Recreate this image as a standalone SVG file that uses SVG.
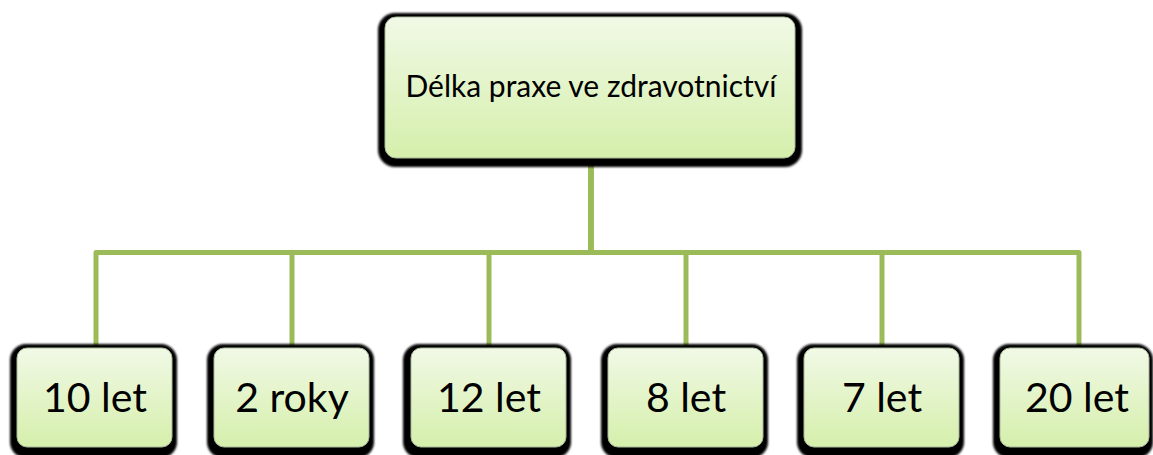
<svg xmlns="http://www.w3.org/2000/svg" width="1153" height="455" viewBox="0 0 1153 455">
  <defs>
    <linearGradient id="fill" x1="0" y1="0" x2="0" y2="1">
      <stop offset="0" stop-color="#f1f9e6"/>
      <stop offset="1" stop-color="#d5efab"/>
    </linearGradient>
    <filter id="blur" x="-10%" y="-10%" width="120%" height="120%">
      <feGaussianBlur stdDeviation="0.8"/>
    </filter>
  </defs>
  <style>
    .shadow { fill: #000; filter: url(#blur); }
    .box { fill: url(#fill); stroke: #a9b99a; stroke-width: 1; }
    .conn { fill: none; stroke: #9bbb59; stroke-width: 5; stroke-linejoin: round; }
    .lbl { font-family: Lato, "Liberation Sans", sans-serif; fill: #000; text-anchor: middle; }
    .top { font-size: 30px; }
    .leaf { font-size: 41px; }
  </style>
  <rect width="1153" height="455" fill="#fff"/>
  <g id="connectors">
    <path class="conn" d="M591,158 V252.5 H96 V346"/>
    <path class="conn" d="M591,158 V252.5 H292 V346"/>
    <path class="conn" d="M591,158 V252.5 H489 V346"/>
    <path class="conn" d="M591,158 V252.5 H686 V346"/>
    <path class="conn" d="M591,158 V252.5 H882 V346"/>
    <path class="conn" d="M591,158 V252.5 H1079 V346"/>
  </g>
  <g id="root">
    <rect class="shadow" x="378" y="13" width="424" height="154" rx="17"/>
    <rect class="box" x="385" y="17" width="410" height="141" rx="11"/>
    <text class="lbl top" x="591" y="97">Délka praxe ve zdravotnictví</text>
  </g>
  <g id="n1">
    <rect class="shadow" x="10" y="344" width="167" height="114" rx="16"/>
    <rect class="box" x="17" y="348" width="155" height="99" rx="10"/>
    <text class="lbl leaf" x="95" y="412">10 let</text>
  </g>
  <g id="n2">
    <rect class="shadow" x="207" y="344" width="167" height="114" rx="16"/>
    <rect class="box" x="214" y="348" width="155" height="99" rx="10"/>
    <text class="lbl leaf" x="292" y="412">2 roky</text>
  </g>
  <g id="n3">
    <rect class="shadow" x="403" y="344" width="168" height="114" rx="16"/>
    <rect class="box" x="411" y="348" width="155" height="99" rx="10"/>
    <text class="lbl leaf" x="489" y="412">12 let</text>
  </g>
  <g id="n4">
    <rect class="shadow" x="601" y="344" width="167" height="114" rx="16"/>
    <rect class="box" x="608" y="348" width="155" height="99" rx="10"/>
    <text class="lbl leaf" x="686" y="412">8 let</text>
  </g>
  <g id="n5">
    <rect class="shadow" x="797" y="344" width="167" height="114" rx="16"/>
    <rect class="box" x="804" y="348" width="155" height="99" rx="10"/>
    <text class="lbl leaf" x="882" y="412">7 let</text>
  </g>
  <g id="n6">
    <rect class="shadow" x="993" y="344" width="160" height="114" rx="16"/>
    <rect class="box" x="1000" y="348" width="149" height="99" rx="10"/>
    <text class="lbl leaf" x="1077" y="412">20 let</text>
  </g>
</svg>
